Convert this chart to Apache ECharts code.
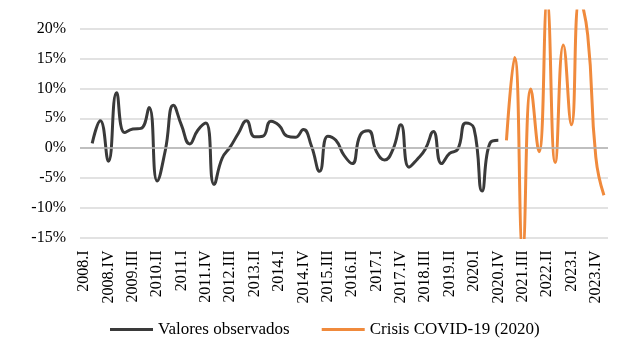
<!DOCTYPE html>
<html>
<head>
<meta charset="utf-8">
<script src="https://cdn.jsdelivr.net/npm/echarts@6/dist/echarts.min.js"></script>
<style>
html,body{margin:0;padding:0;background:#fff;}
#c{width:640px;height:340px;}
</style>
</head>
<body>
<div id="c"></div>
<script>
var years = [2008,2009,2010,2011,2012,2013,2014,2015,2016,2017,2018,2019,2020,2021,2022,2023,2024];
var quarters = ['I','II','III','IV'];
var categories = [];
years.forEach(function(y){ quarters.forEach(function(q){ categories.push(y + '.' + q); }); });
categories = categories.slice(0, 65); // 2008.I .. 2024.I

// Valores observados (%), 2008.I .. 2020.IV
var observed = [null,
  0.8, 4.6, -2.2, 9.3, 2.6, 3.2, 3.3, 6.8, -5.5, -0.4,
  7.2, 3.8, 0.7, 3.0, 4.2, -6.1, -1.7, 0.2, 2.5, 4.6,
  1.9, 2.0, 4.5, 3.8, 2.0, 1.8, 3.1, 0.3, -3.9, 2.0,
  1.3, -1.2, -2.6, 2.2, 2.9, -0.6, -2.0, -0.3, 3.9, -3.2,
  -1.9, -0.2, 2.8, -2.6, -0.9, -0.2, 4.2, 3.3, -7.2, 0.9,
  1.3];
// Crisis COVID-19 (2020) (%), 2021.I .. 2024.I
var covid = [1.3, 15.2, -17, 9.9, -0.6, 24.5, -2.4, 17.3, 3.9, 25, 19, -1.5, -7.9];

var yTicks = [-15, -10, -5, 0, 5, 10, 15, 20];

var obsData = categories.map(function(c, i){ return i < observed.length ? observed[i] : null; });
var covidStart = categories.length - covid.length;
var covidData = categories.map(function(c, i){ return i >= covidStart ? covid[i - covidStart] : null; });

var font = '"Liberation Serif", "Times New Roman", serif';
var chart = echarts.init(document.getElementById('c'), null, {renderer: 'canvas'});
chart.setOption({
  animation: false,
  backgroundColor: '#ffffff',
  grid: {left: 80, right: 32, top: 11, bottom: 102.5, containLabel: false},
  legend: {
    data: ['Valores observados', 'Crisis COVID-19 (2020)'],
    left: 105, top: 316,
    icon: 'rect', itemWidth: 43, itemHeight: 3, itemGap: 32,
    textStyle: {fontFamily: font, fontSize: 17, color: '#000'}
  },
  xAxis: {
    type: 'category',
    data: categories,
    boundaryGap: true,
    axisLine: {show: false, onZero: false},
    axisTick: {show: false},
    axisLabel: {
      interval: 2, rotate: 90, margin: 13,
      fontFamily: font, fontSize: 16, color: '#000'
    },
    splitLine: {show: false}
  },
  yAxis: {
    type: 'value',
    min: -15, max: 23, interval: 5,
    axisLine: {show: false},
    axisTick: {show: false},
    axisLabel: {
      margin: 14, fontFamily: font, fontSize: 16, color: '#000',
      showMaxLabel: false,
      formatter: function(v){ return yTicks.indexOf(v) >= 0 ? v + '%' : ''; }
    },
    splitLine: {show: true, showMaxLine: false, lineStyle: {color: '#d9d9d9', width: 1.5}}
  },
  series: [
    {
      name: 'zero', type: 'line', data: [], z: 1, silent: true,
      markLine: {
        silent: true, symbol: ['none','none'], label: {show: false},
        lineStyle: {color: '#b3b3b3', width: 1.5, type: 'solid'},
        data: [{yAxis: 0}]
      }
    },
    {
      name: 'Valores observados', type: 'line', data: obsData, z: 3,
      smooth: 0.5, showSymbol: false, symbol: 'none', connectNulls: false,
      lineStyle: {color: '#3a3a3a', width: 3},
      itemStyle: {color: '#3a3a3a'}
    },
    {
      name: 'Crisis COVID-19 (2020)', type: 'line', data: covidData, z: 3,
      smooth: 0.5, showSymbol: false, symbol: 'none', connectNulls: false,
      lineStyle: {color: '#f08a3c', width: 3},
      itemStyle: {color: '#f08a3c'}
    }
  ]
});
</script>
</body>
</html>
